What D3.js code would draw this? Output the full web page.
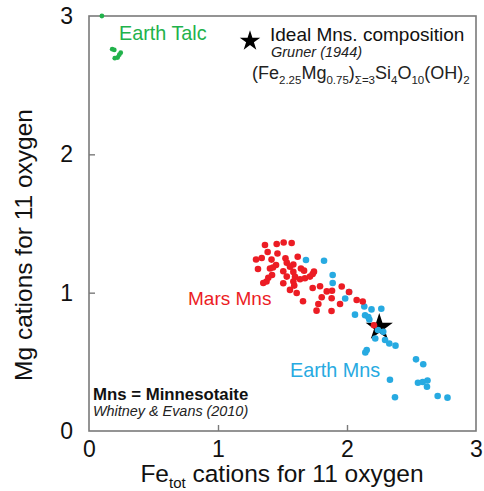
<!DOCTYPE html>
<html><head><meta charset="utf-8">
<script src="https://cdn.jsdelivr.net/npm/d3@7"></script>
<style>body{margin:0;background:#fff}svg{display:block;font-family:"Liberation Sans",Arial,sans-serif}</style>
</head><body><svg id="c" width="484" height="491"></svg>
<script>
const xTicks = [0, 1, 2, 3];
const yTicks = [0, 1, 2, 3];
const talcX = [0.10, 0.18, 0.196, 0.246, 0.235, 0.222, 0.20];
const talcY = [3.00, 2.76, 2.755, 2.735, 2.72, 2.70, 2.695];
const marsX = [1.364,1.455,1.509,1.571,1.385,1.461,1.339,1.295,1.415,1.523,1.618,1.533,1.584,1.450,1.310,1.403,1.426,1.558,1.643,1.667,1.419,1.390,1.376,1.351,1.506,1.533,1.584,1.597,1.636,1.674,1.713,1.744,1.734,1.584,1.591,1.506,1.558,1.610,1.734,1.791,1.843,1.884,1.959,1.659,1.804,1.881,1.778,1.946,1.764,1.880,2.075,2.122,2.016,2.209];
const marsY = [1.345,1.352,1.363,1.359,1.294,1.283,1.251,1.240,1.239,1.249,1.260,1.217,1.204,1.200,1.171,1.175,1.182,1.188,1.175,1.159,1.128,1.108,1.081,1.070,1.155,1.116,1.150,1.114,1.097,1.104,1.116,1.152,1.135,1.080,1.051,1.068,1.020,0.998,1.034,1.046,1.009,1.014,1.045,0.938,0.967,0.960,0.918,0.918,0.870,0.868,0.947,0.936,1.005,0.764];
const earthX = [1.682,1.822,1.889,1.889,1.986,2.016,2.134,2.190,2.266,2.062,2.140,2.165,2.173,2.240,2.281,2.219,2.295,2.328,2.376,2.153,2.142,2.535,2.591,2.333,2.550,2.587,2.624,2.620,2.372,2.703,2.779];
const earthY = [1.236,1.231,1.128,1.070,0.958,1.005,0.900,0.879,0.884,0.841,0.837,0.824,0.806,0.730,0.718,0.669,0.658,0.633,0.617,0.586,0.568,0.518,0.482,0.371,0.349,0.354,0.365,0.320,0.244,0.253,0.241];
const idealMns = [2.25, 0.75];

const RED = "#ec1c24", BLUE = "#27aae1", GREEN = "#21b24b", FRAME = "#7a7a7a";
const svg = d3.select("#c");
const L = 89, R = 476, T = 16, B = 431;
const x = d3.scaleLinear().domain([0, 3]).range([L, R]);
const y = d3.scaleLinear().domain([0, 3]).range([B, T]);

// frame
svg.append("rect").attr("x", L).attr("y", T).attr("width", R - L).attr("height", B - T)
  .attr("fill", "none").attr("stroke", FRAME).attr("stroke-width", 1.6);

// axes (inward ticks)
const xa = svg.append("g").attr("transform", `translate(0,${B})`)
  .call(d3.axisBottom(x).tickValues(xTicks).tickSizeInner(-6).tickSizeOuter(0).tickPadding(10).tickFormat(d3.format("d")));
const ya = svg.append("g").attr("transform", `translate(${L},0)`)
  .call(d3.axisLeft(y).tickValues(yTicks).tickSizeInner(-6).tickSizeOuter(0).tickPadding(16).tickFormat(d3.format("d")));
[xa, ya].forEach(a => {
  a.select(".domain").remove();
  a.selectAll(".tick line").attr("stroke", FRAME).attr("stroke-width", 1.4)
    .filter(d => d === 0 || d === 3).remove();
  a.selectAll(".tick text").attr("font-size", 23).attr("fill", "#111").attr("font-family", "Liberation Sans, Arial, sans-serif");
});

// axis titles
const xt = svg.append("text").attr("x", 282).attr("y", 482).attr("text-anchor", "middle")
  .attr("font-size", 24.5).attr("fill", "#111");
xt.append("tspan").text("Fe");
xt.append("tspan").text("tot").attr("font-size", 15).attr("dy", 6);
xt.append("tspan").text(" cations for 11 oxygen").attr("dy", -6);
svg.append("text").attr("transform", "translate(32,245) rotate(-90)").attr("text-anchor", "middle")
  .attr("font-size", 24.5).attr("fill", "#111").text("Mg cations for 11 oxygen");

// star symbol
const star = d3.symbol().type(d3.symbolStar);
svg.append("path").attr("d", star.size(230)()).attr("fill", "#000")
  .attr("transform", `translate(${x(idealMns[0])},${y(idealMns[1])})`);

// points
const pts = (xs, ys, col, r) => svg.append("g").selectAll("circle").data(xs).join("circle")
  .attr("cx", d => x(d)).attr("cy", (d, i) => y(ys[i])).attr("r", r).attr("fill", col);
pts(talcX, talcY, GREEN, 2.4);
pts(earthX, earthY, BLUE, 3.3);
pts(marsX, marsY, RED, 3.3);

// labels
svg.append("text").attr("x", 119).attr("y", 40).attr("font-size", 19.8).attr("fill", GREEN).text("Earth Talc");
svg.append("text").attr("x", 188).attr("y", 305).attr("font-size", 19).attr("fill", RED).text("Mars Mns");
svg.append("text").attr("x", 290).attr("y", 377).attr("font-size", 19.8).attr("fill", BLUE).text("Earth Mns");

// legend
svg.append("path").attr("d", star.size(130)()).attr("fill", "#000").attr("transform", "translate(250,41)");
svg.append("text").attr("x", 270).attr("y", 41).attr("font-size", 19).attr("fill", "#111").text("Ideal Mns. composition");
svg.append("text").attr("x", 271).attr("y", 57).attr("font-size", 14.5).attr("font-style", "italic").attr("fill", "#222").text("Gruner (1944)");
const f = svg.append("text").attr("x", 252).attr("y", 79).attr("font-size", 18).attr("fill", "#222");
const parts = [["(Fe", 0], ["2.25", 1], ["Mg", 0], ["0.75", 1], [")", 0], ["\u03A3=3", 1], ["Si", 0], ["4", 1], ["O", 0], ["10", 1], ["(OH)", 0], ["2", 1]];
let prev = 0;
parts.forEach(([t, s]) => {
  const sp = f.append("tspan").text(t).attr("dy", (s - prev) * 5);
  if (s) sp.attr("font-size", 11.5);
  prev = s;
});

svg.append("text").attr("x", 93).attr("y", 400).attr("font-size", 16.8).attr("font-weight", "bold").attr("fill", "#111").text("Mns = Minnesotaite");
svg.append("text").attr("x", 93).attr("y", 416).attr("font-size", 14.4).attr("font-style", "italic").attr("fill", "#222").text("Whitney & Evans (2010)");
</script></body></html>
